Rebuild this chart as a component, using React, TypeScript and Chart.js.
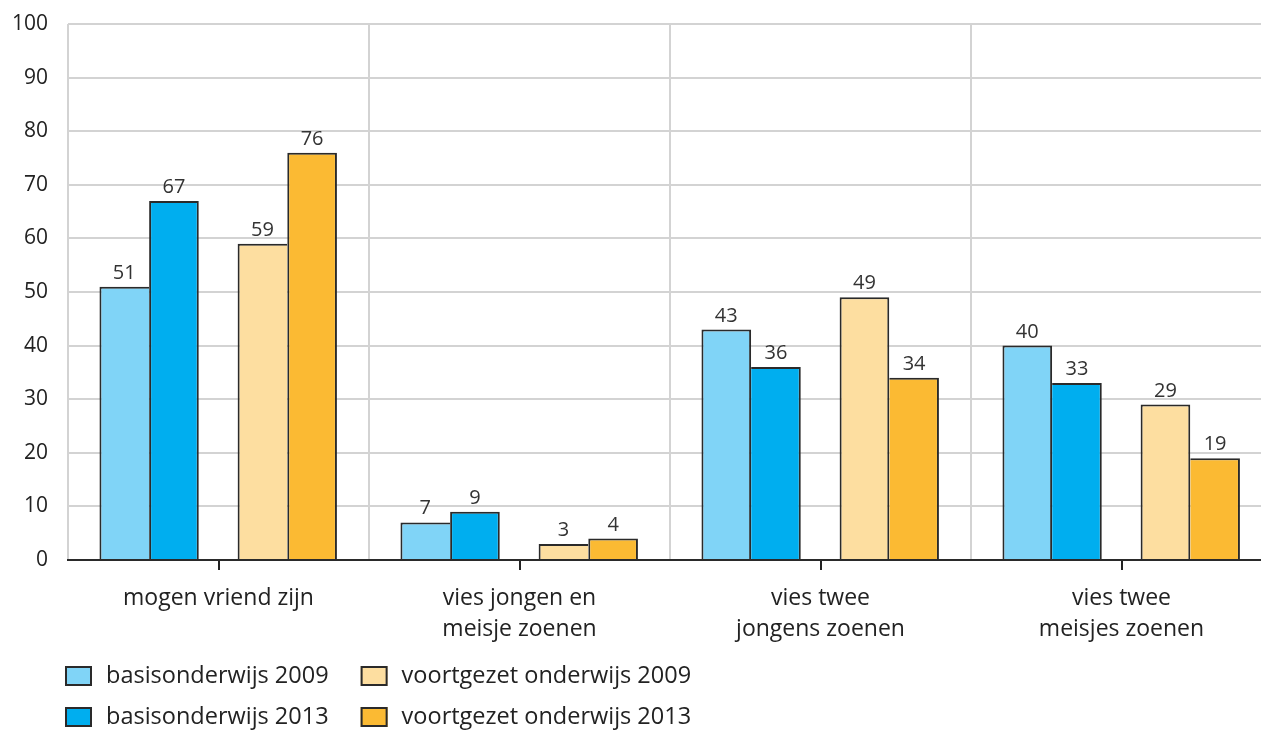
import React, { useEffect, useRef } from 'react';
import { Chart, registerables } from 'chart.js';

Chart.register(...registerables);

// ---- data ----
const CATEGORIES: string[][] = [
  ['mogen vriend zijn'],
  ['vies jongen en', 'meisje zoenen'],
  ['vies twee', 'jongens zoenen'],
  ['vies twee', 'meisjes zoenen'],
];
const SERIES_LABELS = [
  'basisonderwijs 2009',
  'basisonderwijs 2013',
  'voortgezet onderwijs 2009',
  'voortgezet onderwijs 2013',
];
const BASIS_2009 = [51, 7, 43, 40];
const BASIS_2013 = [67, 9, 36, 33];
const VOORTGEZET_2009 = [59, 3, 49, 29];
const VOORTGEZET_2013 = [76, 4, 34, 19];
const Y_MIN = 0;
const Y_MAX = 100;
const Y_STEP = 10;

// ---- layout / style ----
const SERIES = [BASIS_2009, BASIS_2013, VOORTGEZET_2009, VOORTGEZET_2013];
const COLORS = ['#80d4f7', '#00aeef', '#fddea0', '#fbba33'];
const SLOT_OFFSETS = [-0.313, -0.148, 0.146, 0.311]; // position of each series within a category (category units)
const BORDER = '#2a2a2a';
const BW = 2;
const FONT = '"Open Sans", "Noto Sans", sans-serif';
const TEXT = '#222';
const GRID = '#d3d3d3';
const CLEAR = 'rgba(0,0,0,0)';

const pairBorder = (s: number) => (ctx: any) => {
  const i = ctx.dataIndex;
  const isLeft = s % 2 === 0;
  const mine = SERIES[s][i];
  const other = SERIES[isLeft ? s + 1 : s - 1][i];
  if (isLeft) return { top: BW, left: BW, bottom: 0, right: mine >= other ? BW : 0 };
  return { top: BW, right: BW, bottom: 0, left: mine > other ? BW : 0 };
};

const valueLabels = {
  id: 'valueLabels',
  afterDatasetsDraw(chart: any) {
    const ctx = chart.ctx;
    ctx.save();
    ctx.font = `20px ${FONT}`;
    ctx.fillStyle = '#333';
    ctx.textAlign = 'center';
    ctx.textBaseline = 'alphabetic';
    chart.data.datasets.forEach((_ds: any, di: number) => {
      const meta = chart.getDatasetMeta(di);
      meta.data.forEach((el: any, i: number) => {
        ctx.fillText(String(SERIES[di][i]), el.x, el.y - 8);
      });
    });
    ctx.restore();
  },
};

const gridLegend = {
  id: 'gridLegend',
  afterDraw(chart: any) {
    const ctx = chart.ctx;
    ctx.save();
    ctx.font = `23.5px ${FONT}`;
    const boxW = 27;
    const boxH = 20;
    const gapText = 14;
    const colGap = 32;
    const x0 = 65;
    const rows = [676, 717];
    const cols = [[0, 1], [2, 3]];
    const w0 = Math.max(...cols[0].map((i) => ctx.measureText(SERIES_LABELS[i]).width));
    const xs = [x0, x0 + boxW + gapText + w0 + colGap];
    cols.forEach((col, c) => {
      col.forEach((s, r) => {
        const x = xs[c];
        const y = rows[r];
        ctx.fillStyle = COLORS[s];
        ctx.fillRect(x, y - boxH / 2, boxW, boxH);
        ctx.strokeStyle = BORDER;
        ctx.lineWidth = 2;
        ctx.strokeRect(x + 1, y - boxH / 2 + 1, boxW - 2, boxH - 2);
        ctx.fillStyle = TEXT;
        ctx.textAlign = 'left';
        ctx.textBaseline = 'middle';
        ctx.fillText(SERIES_LABELS[s], x + boxW + gapText, y);
      });
    });
    ctx.restore();
  },
};

export default function App() {
  const ref = useRef<HTMLCanvasElement>(null);
  useEffect(() => {
    const canvas = ref.current;
    if (!canvas) return;
    Chart.defaults.font.family = FONT;
    const chart = new Chart(canvas, {
      type: 'bar',
      data: {
        datasets: SERIES.map((vals, s) => ({
          label: SERIES_LABELS[s],
          data: vals.map((v, i) => ({ x: i + SLOT_OFFSETS[s], y: v })),
          backgroundColor: COLORS[s],
          borderColor: BORDER,
          borderWidth: pairBorder(s),
          borderSkipped: 'start',
          grouped: false,
          categoryPercentage: 1,
          barPercentage: 1,
          inflateAmount: 0,
        })) as any,
      },
      options: {
        animation: false,
        responsive: true,
        maintainAspectRatio: false,
        layout: { padding: { left: 0, right: 0, top: 24, bottom: 0 } },
        plugins: {
          legend: { display: false },
          tooltip: { enabled: false },
        },
        scales: {
          x: {
            type: 'linear',
            min: -0.5,
            max: CATEGORIES.length - 0.5,
            offset: false,
            z: 1,
            afterFit: (scale: any) => {
              scale.height = 171;
            },
            grid: {
              offset: false,
              lineWidth: 2,
              color: (c: any) => {
                const v = c.tick ? c.tick.value : 0;
                return !Number.isInteger(v) && v < CATEGORIES.length - 0.5 ? GRID : CLEAR;
              },
              tickColor: (c: any) => {
                const v = c.tick ? c.tick.value : 0;
                return Number.isInteger(v) ? TEXT : CLEAR;
              },
              tickLength: 10,
              tickWidth: 2,
            },
            border: { display: true, color: BORDER, width: 2 },
            ticks: {
              stepSize: 0.5,
              autoSkip: false,
              maxRotation: 0,
              minRotation: 0,
              padding: 13,
              color: TEXT,
              font: { size: 23, lineHeight: 1.35 },
              callback: (value: any) => {
                const v = Number(value);
                return Number.isInteger(v) && v >= 0 && v < CATEGORIES.length ? CATEGORIES[v] : '';
              },
            },
          },
          y: {
            min: Y_MIN,
            max: Y_MAX,
            afterFit: (scale: any) => {
              scale.width = 68;
            },
            grid: {
              lineWidth: 2,
              drawTicks: true,
              tickLength: 20,
              tickColor: CLEAR,
              color: (c: any) => (c.tick && c.tick.value === 0 ? CLEAR : GRID),
            },
            border: { display: false },
            ticks: {
              stepSize: Y_STEP,
              padding: 0,
              color: TEXT,
              font: { size: 21 },
            },
          },
        },
      } as any,
      plugins: [valueLabels, gridLegend],
    });
    return () => chart.destroy();
  }, []);
  return (
    <div style={{ position: 'fixed', left: 0, top: 0, width: 1261, height: 731, overflow: 'hidden', background: '#fff' }}>
      <div style={{ position: 'relative', width: 1285, height: 731 }}>
        <canvas ref={ref} />
      </div>
    </div>
  );
}
